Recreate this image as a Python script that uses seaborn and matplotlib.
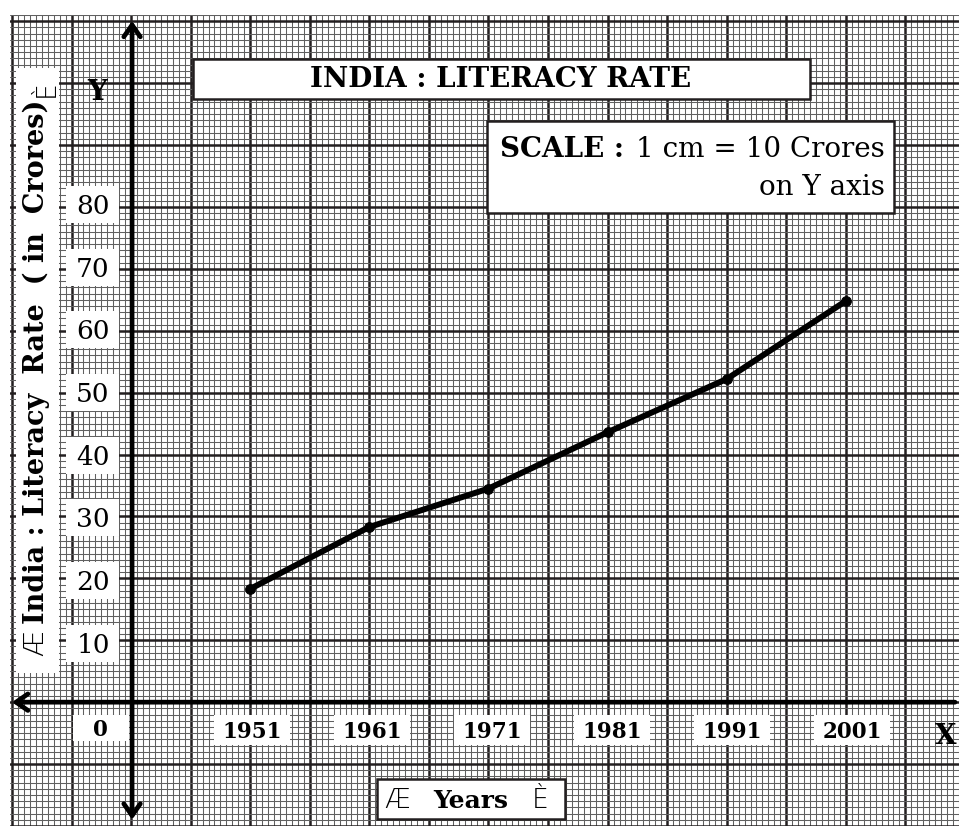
import numpy as np
import pandas as pd
import matplotlib
matplotlib.use("Agg")
import matplotlib.pyplot as plt
import seaborn as sns
from matplotlib.patches import Rectangle
from matplotlib.transforms import Affine2D

# ---------------- data ----------------
years = [1951, 1961, 1971, 1981, 1991, 2001]
literacy = [18.3, 28.3, 34.5, 43.6, 52.2, 64.8]
year_labels = ["1951", "1961", "1971", "1981", "1991", "2001"]
y_tick_values = [10, 20, 30, 40, 50, 60, 70, 80]
y_tick_labels = ["10", "20", "30", "40", "50", "60", "70", "80"]
title_text = "INDIA : LITERACY RATE"
y_label = "India : Literacy  Rate  ( in  Crores)"
x_label = "Years"
scale_bold = "SCALE :"
scale_line1 = "1 cm = 10 Crores"
scale_line2 = "on Y axis"

# ---------------- style ----------------
sns.set_style("white")
plt.rcParams["font.family"] = ["DejaVu Serif", "DejaVu Sans"]

W, H = 959, 826
fig = plt.figure(figsize=(W / 100, H / 100), dpi=100)
fig.patch.set_facecolor("white")
ax = fig.add_axes([10 / W, 0, (W - 10) / W, (H - 15) / H])


def px_to_year(px):
    return 1951 + (px - 252) / 12.0


def py_to_val(py):
    return (706 - py) / 6.27


def val_to_py(v):
    return 706 - v * 6.27


def year_to_px(y):
    return 252 + (y - 1951) * 12.0


ax.set_xlim(px_to_year(10), px_to_year(959))
ax.set_ylim(py_to_val(826), py_to_val(15))

# graph paper grid
ax.set_xticks(np.arange(1931, 2011, 5))
ax.set_xticks(np.arange(1931, 2011, 0.5), minor=True)
ax.set_yticks(np.arange(-20, 111, 10))
ax.set_yticks(np.arange(-20, 112, 1), minor=True)
ax.grid(which="minor", color="#606060", lw=0.75)
ax.grid(which="major", color="#231f20", lw=1.8)
ax.set_axisbelow(True)
ax.tick_params(which="both", length=0, labelbottom=False, labelleft=False)
for s in ax.spines.values():
    s.set_visible(False)

# axes with arrows
ax.annotate("", xy=(1941.08, py_to_val(16)), xytext=(1941.08, py_to_val(825)),
            arrowprops=dict(arrowstyle="<->,head_length=0.5,head_width=0.35", lw=3.4,
                            color="black", shrinkA=0, shrinkB=0, mutation_scale=17),
            annotation_clip=False, zorder=4)
ax.annotate("", xy=(px_to_year(12), 0), xytext=(px_to_year(962), 0),
            arrowprops=dict(arrowstyle="->,head_length=0.5,head_width=0.35", lw=3.4,
                            color="black", shrinkA=0, shrinkB=0, mutation_scale=17),
            annotation_clip=False, zorder=4)

# data line
df = pd.DataFrame({"year": years, "literacy": literacy})
sns.lineplot(data=df, x="year", y="literacy", ax=ax, color="black", lw=4.3,
             marker="o", markersize=7, markeredgecolor="black", zorder=5)
ax.set_xlabel("")
ax.set_ylabel("")

# ---------------- decorations in pixel coords (y down) ----------------
T = Affine2D().scale(1 / W, -1 / H).translate(0, 1) + fig.transFigure


def box(x, y, w, h, edge=True):
    fig.add_artist(Rectangle((x, y), w, h, transform=T, fc="white",
                             ec="#231f20" if edge else "none", lw=1.8 if edge else 0,
                             zorder=5))


def txt(x, y, s, **kw):
    kw.setdefault("zorder", 6)
    kw.setdefault("color", "black")
    return fig.text(x, y, s, transform=T, **kw)


# title
box(193, 59, 617, 40)
txt(500.5, 87, title_text, ha="center", va="baseline", fontsize=20, fontweight="bold")

# scale box
box(487, 121, 407, 92)
t1 = txt(885, 157, scale_line1, ha="right", va="baseline", fontsize=20)
txt(885, 195, scale_line2, ha="right", va="baseline", fontsize=20)
renderer = fig.canvas.get_renderer()
bb = t1.get_window_extent(renderer=renderer)
txt(bb.x0 - 12, 157, scale_bold, ha="right", va="baseline", fontsize=20, fontweight="bold")

# y label
box(16, 68, 43, 605, edge=False)
yl = txt(36, 362, y_label, ha="center", va="center", rotation=90, fontsize=19.5,
         fontweight="bold")
bby = yl.get_window_extent(renderer=renderer)
txt(36, H - bby.y0 + 6, "Æ", ha="center", va="top", rotation=90, fontsize=19,
    family="DejaVu Sans", fontweight="light")
txt(46, H - bby.y1 - 3, "È", ha="center", va="bottom", rotation=90, fontsize=19,
    family="DejaVu Sans", fontweight="light")

# y tick labels
for v, lab in zip(y_tick_values, y_tick_labels):
    py = val_to_py(v)
    box(66, py - 18.5, 53, 37, edge=False)
    txt(93, py + 9.5, lab, ha="center", va="baseline", fontsize=19)

# x tick labels
for yr, lab in zip(years, year_labels):
    px = year_to_px(yr)
    box(px - 38, 715, 76, 30, edge=False)
    txt(px, 738, lab, ha="center", va="baseline", fontsize=15.5, fontweight="bold")

box(73, 715, 56, 26, edge=False)
txt(100, 736, "0", ha="center", va="baseline", fontsize=15.5, fontweight="bold")

txt(97, 100, "Y", ha="center", va="baseline", fontsize=20, fontweight="bold")
txt(946, 744, "X", ha="center", va="baseline", fontsize=20, fontweight="bold")

# x label box
box(377, 779, 188, 40)
txt(471, 808, x_label, ha="center", va="baseline", fontsize=18, fontweight="bold")
txt(397, 808, "Æ", ha="center", va="baseline", fontsize=19, family="DejaVu Sans",
    fontweight="light")
txt(540, 808, "È", ha="center", va="baseline", fontsize=19, family="DejaVu Sans",
    fontweight="light")

fig.savefig("out.png", dpi=100, facecolor="white")
